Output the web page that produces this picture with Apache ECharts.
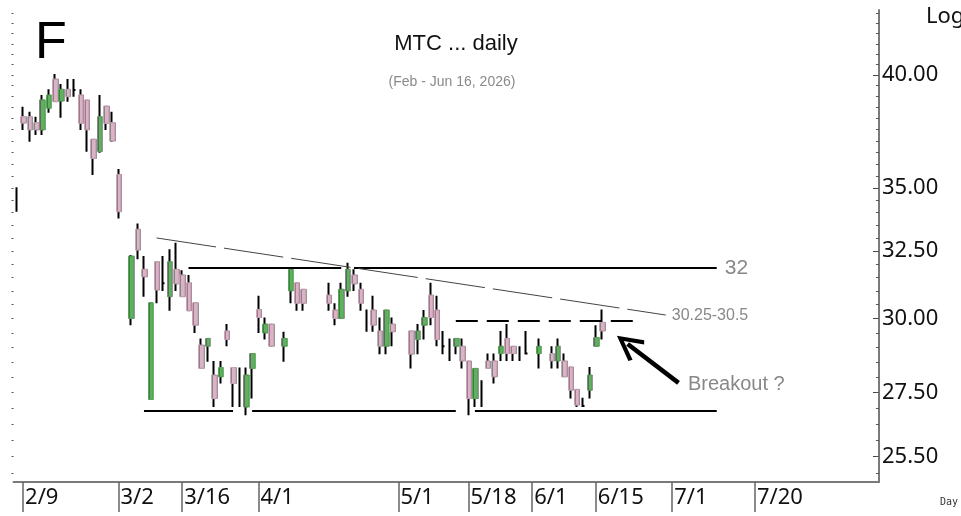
<!DOCTYPE html>
<html>
<head>
<meta charset="utf-8">
<script src="https://cdn.jsdelivr.net/npm/echarts@6/dist/echarts.min.js"></script>
<style>
  html, body { margin: 0; padding: 0; background: #fff; }
  #chart { width: 961px; height: 516px; }
</style>
</head>
<body>
<div id="chart"></div>
<script>
// daily bars, one slot per weekday starting Fri 2/6 (null = no bar drawn)
var opens = [34.58, 38.08, 38.08, 37.81, 37.49, 38.46, 39.81, 38.79, 39.33, 39.30,
  39.07, 38.84, 37.08, 36.54, 38.56, 37.81, 35.57, null, 30.01, 33.34,
  31.80, 27.27, 32.09, 31.28, 30.79, 31.80, 31.59, 31.30, 30.57, 29.08,
  29.04, 28.07, 28.01, 29.57, 28.32, 27.79, 27.03, 28.29, 30.33, 29.50,
  29.81, null, 29.04, 31.00, 31.30, 31.06, null, null, null, 30.85,
  30.31, 30.01, 31.00, 31.59, 31.06, 30.04, 30.31, 29.57, 29.04, 29.81,
  null, null, 29.57, 29.27, 29.77, 30.85, 30.31, 29.04, 28.79, 29.04,
  29.04, 28.54, 27.30, 27.79, 28.54, 28.54, 28.79, 29.31, 29.04, 28.79,
  28.79, null, 28.79, null, 28.79, 28.54, 28.54, 28.34, 27.60, 27.06,
  27.57, 29.04, 29.87];
var closes = [34.58, 37.79, 37.49, 37.49, 38.84, 39.07, 38.76, 39.33, 38.99, 39.30,
  37.78, 37.49, 36.25, 38.08, 37.78, 37.00, 34.04, null, 32.30, 32.53,
  31.52, 30.57, 31.03, 31.28, 32.09, 31.26, 30.79, 30.28, 29.77, 28.29,
  29.31, 27.30, 28.32, 29.27, 27.79, 27.79, 28.07, 28.79, 30.04, 29.81,
  29.04, null, 29.31, 31.80, 30.55, 30.55, null, null, null, 30.55,
  30.01, 31.06, 31.80, 31.26, 30.55, 30.04, 29.77, 29.04, 30.31, 29.54,
  null, null, 28.77, 29.57, 30.04, 30.04, 29.27, 29.04, 28.79, 29.31,
  28.54, 27.30, 28.29, 27.79, 28.29, 28.01, 29.04, 28.79, 28.79, 28.79,
  28.79, null, 29.04, null, 28.54, 29.04, 28.01, 27.57, 27.09, 27.06,
  28.07, 29.34, 29.57];
var lows = [34.04, 37.49, 36.97, 37.27, 37.27, 38.26, 38.76, 38.03, 38.76, 38.99,
  37.49, 36.54, 35.55, 36.49, 37.49, 36.97, 33.77, null, 29.77, 32.18,
  30.79, 27.27, 30.55, 31.00, 30.28, 31.00, 30.79, 30.28, 29.50, 28.29,
  28.51, 27.03, 27.79, 29.04, 27.03, 27.03, 26.77, 27.30, 29.50, 29.27,
  29.04, null, 28.51, 30.55, 30.28, 30.28, null, null, null, 30.28,
  29.77, 30.01, 30.79, 31.00, 30.28, 29.54, 29.54, 28.77, 28.77, 29.04,
  null, null, 28.29, 28.77, 29.27, 29.77, 29.04, 28.77, 28.54, 28.77,
  28.29, 26.77, 27.03, 27.03, 28.29, 27.79, 28.54, 28.54, 28.54, 28.54,
  28.79, null, 28.29, null, 28.29, 28.29, 28.01, 27.30, 27.03, 27.03,
  27.30, 29.04, 29.27];
var highs = [35.04, 38.53, 38.30, 38.08, 39.07, 39.33, 40.05, 39.58, 39.81, 39.81,
  39.33, 38.84, 37.08, 39.07, 38.56, 38.30, 35.80, null, 32.34, 33.57,
  32.30, 30.57, 32.09, 32.30, 32.56, 32.81, 31.77, 31.59, 30.57, 29.31,
  29.31, 28.54, 28.54, 29.81, 28.32, 28.32, 28.32, 28.79, 30.82, 30.04,
  29.81, null, 29.54, 31.80, 31.30, 31.06, null, null, null, 31.30,
  30.55, 31.30, 32.05, 31.80, 31.30, 30.33, 30.82, 30.04, 30.31, 30.04,
  null, null, 29.57, 29.81, 30.31, 31.30, 30.82, 29.57, 29.31, 29.31,
  29.31, 28.54, 28.29, 27.90, 28.79, 28.79, 29.57, 29.81, 29.04, 29.04,
  29.57, null, 29.31, null, 29.04, 29.31, 28.79, 28.34, 27.60, 27.33,
  28.34, 29.77, 30.33];

var dateLabels = ['2/9', '3/2', '3/16', '4/1', '5/1', '5/18', '6/1', '6/15', '7/1', '7/20'];
var priceLabels = [25.5, 27.5, 30, 32.5, 35, 40];
var yMin = 24.74, yMax = 43.19;

// weekday categories
var days = [];
for (var d = new Date(Date.UTC(2026, 1, 6)); days.length < 136; d.setUTCDate(d.getUTCDate() + 1)) {
  var wd = d.getUTCDay();
  if (wd > 0 && wd < 6) days.push((d.getUTCMonth() + 1) + '/' + d.getUTCDate());
}
var dateTickIdx = dateLabels.map(function (s) { return days.indexOf(s); });
var minorTicks = [];
for (var t = 25; t <= 43; t += 0.5) minorTicks.push(t);

function showDate(idx, val) { return dateLabels.indexOf(val) >= 0; }

// black wicks (+ doji crosses) underneath, coloured bodies on top
var wickData = opens.map(function (o, i) {
  if (o == null) return '-';
  var m = (o + closes[i]) / 2;
  return [m, m, lows[i], highs[i]];
});
var bodyData = opens.map(function (o, i) {
  var c = closes[i];
  if (o == null || o === c) return '-';
  return [o, c, Math.min(o, c), Math.max(o, c)];
});

var chevron = 'path://M13,0 L26,24 L22.5,26.5 L13,8.5 L3.5,26.5 L0,24 Z';
function seg(x1, v1, x2, v2, style, label) {
  return [
    { coord: [x1, v1], lineStyle: style, label: label || { show: false } },
    { coord: [x2, v2] }
  ];
}
var solid = { color: '#000', width: 2, type: 'solid' };

var chart = echarts.init(document.getElementById('chart'));
chart.setOption({
  animation: false,
  backgroundColor: '#fff',
  textStyle: { fontFamily: 'Noto Sans' },
  title: [
    { text: 'F', left: 35, top: 18, padding: 0,
      textStyle: { fontSize: 52, fontWeight: 'normal', fontFamily: 'Liberation Sans', color: '#000' } },
    { text: 'MTC ... daily', left: 456, top: 33, padding: 0, textAlign: 'center',
      textStyle: { fontSize: 22, fontWeight: 'normal', fontFamily: 'Liberation Sans', color: '#111' } },
    { text: '(Feb - Jun 16, 2026)', left: 452, top: 75, padding: 0, textAlign: 'center',
      textStyle: { fontSize: 14, fontWeight: 'normal', fontFamily: 'Liberation Sans', color: '#8a8a8a' } },
    { text: 'Log', left: 926, top: 6, padding: 0,
      textStyle: { fontSize: 22, fontWeight: 'normal', fontFamily: 'Noto Sans', color: '#111' } },
    { text: 'Breakout ?', left: 688, top: 374, padding: 0,
      textStyle: { fontSize: 20, fontWeight: 'normal', fontFamily: 'Liberation Sans', color: '#888' } },
    { text: 'Day', left: 940, top: 497, padding: 0,
      textStyle: { fontSize: 10, fontWeight: 'normal', fontFamily: 'DejaVu Sans Mono', color: '#333' } }
  ],
  grid: { left: 13.5, right: 82, top: 10, bottom: 34 },
  xAxis: {
    type: 'category',
    data: days,
    boundaryGap: true,
    axisLine: { lineStyle: { color: '#7a7a7a', width: 2 } },
    axisTick: { show: true, alignWithLabel: true, customValues: dateTickIdx, length: 30,
      lineStyle: { color: '#666', width: 1.5 } },
    axisLabel: { interval: showDate, align: 'left', padding: [0, 0, 0, 2], margin: 5,
      fontSize: 22, color: '#111', fontFamily: 'Noto Sans' },
    splitLine: { show: false }
  },
  yAxis: [
    { type: 'log', position: 'right', min: yMin, max: yMax,
      axisLine: { show: true, lineStyle: { color: '#7a7a7a', width: 2 } },
      axisTick: { show: true, inside: true, length: 6, customValues: priceLabels, lineStyle: { color: '#444' } },
      axisLabel: { customValues: priceLabels, margin: 3, fontSize: 22, color: '#111', fontFamily: 'Noto Sans',
        formatter: function (v) { return Number(v).toFixed(2); } },
      splitLine: { show: false } },
    { type: 'log', position: 'right', min: yMin, max: yMax,
      axisLine: { show: false },
      axisTick: { show: true, inside: true, length: 3, customValues: minorTicks, lineStyle: { color: '#555' } },
      axisLabel: { show: false }, splitLine: { show: false } },
    { type: 'log', position: 'left', min: yMin, max: yMax,
      axisLine: { show: false },
      axisTick: { show: true, length: 2, customValues: minorTicks, lineStyle: { color: '#555' } },
      axisLabel: { show: false }, splitLine: { show: false } }
  ],
  series: [
    {
      name: 'wicks',
      type: 'candlestick',
      z: 2,
      data: wickData,
      barWidth: 3,
      itemStyle: { color: '#000', color0: '#000', borderColor: '#000', borderColor0: '#000',
        borderColorDoji: '#000', borderWidth: 2 },
      markLine: {
        silent: true,
        symbol: ['none', 'none'],
        animation: false,
        data: [
          seg(27, 31.85, 51, 31.85, solid),
          seg(53, 31.85, 110, 31.85, solid,
            { show: true, position: 'end', formatter: '32', distance: 8, fontSize: 21, color: '#888', fontFamily: 'Liberation Sans' }),
          seg(20, 26.9, 34, 26.9, solid),
          seg(37, 26.9, 69, 26.9, solid),
          seg(72, 26.9, 110, 26.9, solid),
          seg(69, 29.93, 97, 29.93, { color: '#000', width: 2, type: [22, 9] }),
          seg(22, 33.0, 102, 30.13, { color: '#444', width: 1, type: [60, 8] },
            { show: true, position: 'end', formatter: '30.25-30.5', distance: 6, fontSize: 16, color: '#888', fontFamily: 'Liberation Sans' }),
          [
            { coord: [104, 27.81], symbol: 'none', lineStyle: { color: '#000', width: 4.5, type: 'solid' }, label: { show: false } },
            { coord: [96, 29.12], symbol: chevron, symbolSize: [26, 27] }
          ]
        ]
      }
    },
    {
      name: 'bodies',
      type: 'candlestick',
      z: 3,
      data: bodyData,
      barWidth: 5,
      itemStyle: { color: '#62ae62', color0: '#d8b4c6', borderColor: '#5aa45a', borderColor0: '#c9a5b7',
        borderWidth: 1, shadowColor: 'rgba(0,0,0,0.3)', shadowOffsetX: 1, shadowBlur: 0 }
    }
  ]
});
</script>
</body>
</html>
